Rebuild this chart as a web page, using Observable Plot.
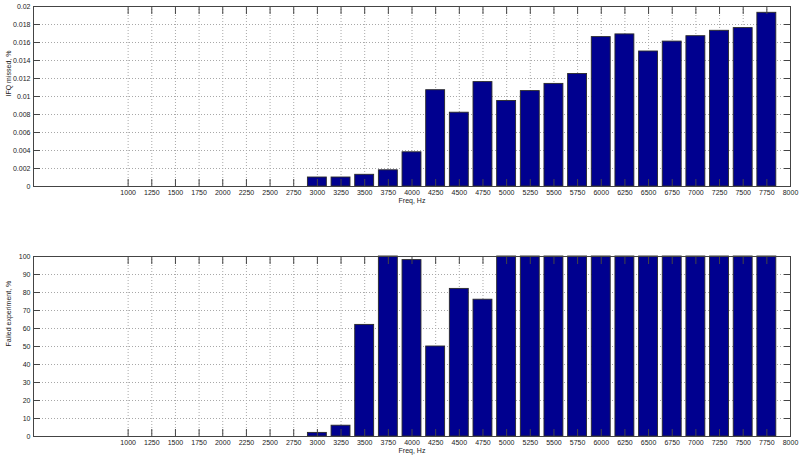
<!DOCTYPE html>
<html>
<head>
<meta charset="utf-8">
<script src="https://cdn.jsdelivr.net/npm/d3@7"></script>
<script src="https://cdn.jsdelivr.net/npm/@observablehq/plot@0.6"></script>
<style>
  body { margin: 0; background: white; }
  #chart svg { display: block; }
</style>
</head>
<body>
<div id="chart"></div>
<script>
// Frequencies (Hz) of the bars
const freqs = [3000, 3250, 3500, 3750, 4000, 4250, 4500, 4750, 5000, 5250,
  5500, 5750, 6000, 6250, 6500, 6750, 7000, 7250, 7500, 7750];

// Top panel: IFQ missed, %
const ifqMissed = [0.0010, 0.0010, 0.0013, 0.0018, 0.0038, 0.0107, 0.0082, 0.0116, 0.0095, 0.0106,
  0.0114, 0.0125, 0.0166, 0.0169, 0.0150, 0.0161, 0.0167, 0.0173, 0.0176, 0.0193];

// Bottom panel: Failed experiment, %
const failedExperiment = [2, 6, 62, 100, 98, 50, 82, 76, 100, 100,
  100, 100, 100, 100, 100, 100, 100, 100, 100, 100];

// Tick labels
const xTicks = [1000, 1250, 1500, 1750, 2000, 2250, 2500, 2750, 3000, 3250, 3500, 3750,
  4000, 4250, 4500, 4750, 5000, 5250, 5500, 5750, 6000, 6250, 6500, 6750,
  7000, 7250, 7500, 7750, 8000];
const ifqTicks = [0, 0.002, 0.004, 0.006, 0.008, 0.01, 0.012, 0.014, 0.016, 0.018, 0.02];
const failedTicks = [0, 10, 20, 30, 40, 50, 60, 70, 80, 90, 100];

const barHalf = 100; // MATLAB bar width 0.8 of 250 Hz spacing

function panel({values, yDomain, yTicks, yLabel, fmt, height, marginTop, marginBottom}) {
  const rows = freqs.map((f, i) => ({f, v: values[i]}));
  const grid = {stroke: "#a8a8a8", strokeOpacity: 1, strokeDasharray: "1,2"};
  const inTicks = {fill: "none", stroke: "#444", tickSize: -7, label: null};
  return Plot.plot({
    width: 800,
    height,
    marginLeft: 33,
    marginRight: 10,
    marginTop,
    marginBottom,
    style: {fontFamily: "'Liberation Sans', Arial, sans-serif", fontSize: "7px", color: "#222", background: "white"},
    x: {domain: [0, 8000]},
    y: {domain: yDomain},
    marks: [
      Plot.gridX(xTicks, grid),
      Plot.gridY(yTicks, grid),
      Plot.rectY(rows, {
        x1: d => d.f - barHalf,
        x2: d => d.f + barHalf,
        y: "v",
        fill: "#00008f",
        stroke: "#2a2a2a",
        strokeWidth: 0.9
      }),
      Plot.axisX(xTicks, {anchor: "bottom", tickSize: 0, tickPadding: 4, tickFormat: d => String(d), label: null}),
      Plot.axisX(xTicks, {anchor: "bottom", ...inTicks}),
      Plot.axisX(xTicks, {anchor: "top", ...inTicks}),
      Plot.axisY(yTicks, {anchor: "left", tickSize: 0, tickPadding: 3, tickFormat: fmt, label: null}),
      Plot.axisY(yTicks, {anchor: "left", ...inTicks}),
      Plot.axisY(yTicks, {anchor: "right", ...inTicks}),
      Plot.frame({stroke: "#444"}),
      Plot.text([yLabel], {frameAnchor: "left", dx: -25, rotate: -90, fill: "#222"}),
      Plot.text(["Freq, Hz"], {frameAnchor: "bottom", dy: 16, fill: "#222"})
    ]
  });
}

const topChart = panel({
  values: ifqMissed,
  yDomain: [0, 0.02],
  yTicks: ifqTicks,
  yLabel: "IFQ missed, %",
  fmt: d => String(+d.toFixed(3)),
  height: 210,
  marginTop: 6,
  marginBottom: 24
});

const bottomChart = panel({
  values: failedExperiment,
  yDomain: [0, 100],
  yTicks: failedTicks,
  yLabel: "Failed experiment, %",
  fmt: d => String(d),
  height: 248,
  marginTop: 46,
  marginBottom: 22
});

d3.select("#chart").append(() => topChart);
d3.select("#chart").append(() => bottomChart);
</script>
</body>
</html>
